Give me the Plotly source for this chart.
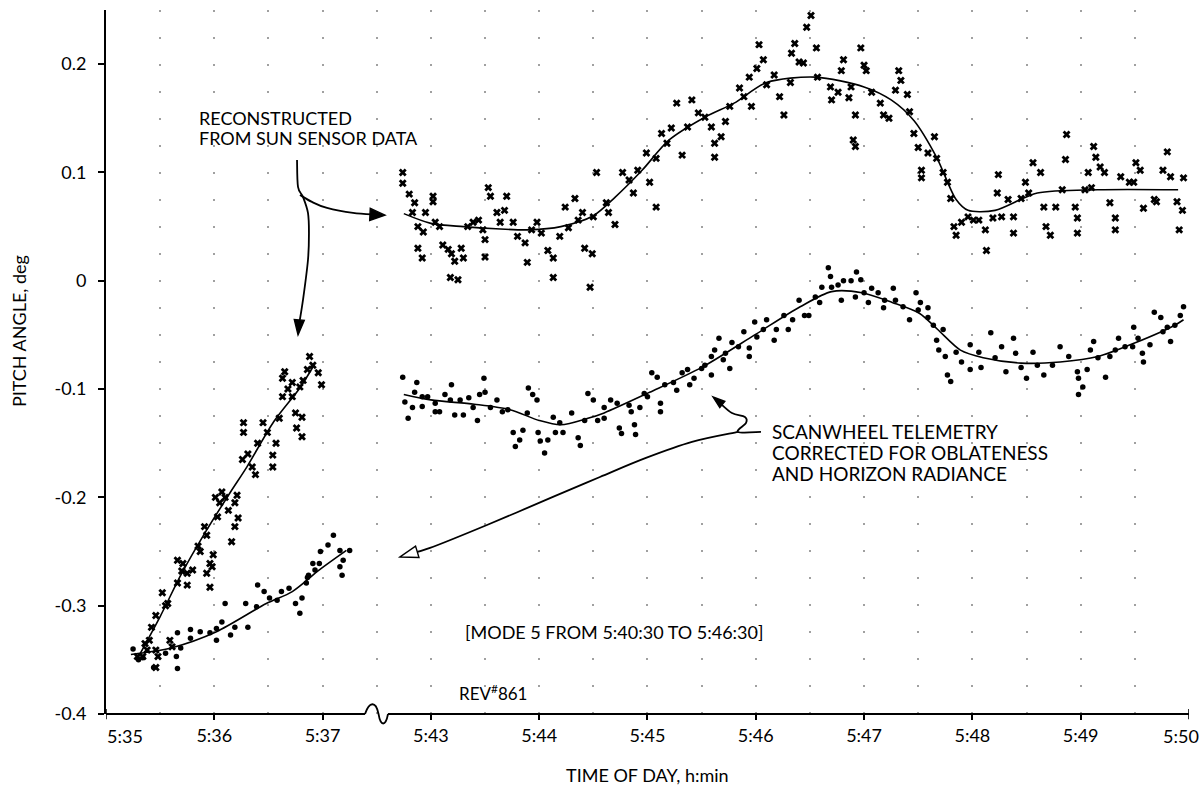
import math
import plotly.graph_objects as go

# ---------------- DATA (time = minutes after 5:00, pitch angle in deg) ----------------
# Sun-sensor reconstruction (x marks)
SS_L_T = [35.29, 35.34, 35.36, 35.38, 35.40, 35.42, 35.46, 35.46, 35.46, 35.48, 35.52, 35.55, 35.57, 35.59,
          35.61, 35.66, 35.66, 35.70, 35.71, 35.75, 35.75, 35.80, 35.85, 35.87, 35.91, 35.93, 35.93, 35.96,
          35.96, 35.98, 35.99, 36.01, 36.03, 36.05, 36.07, 36.10, 36.13, 36.16, 36.19, 36.19, 36.21, 36.22,
          36.26, 36.27, 36.27, 36.31, 36.35, 36.38, 36.40, 36.45, 36.49, 36.54, 36.54, 36.57, 36.60, 36.63,
          36.63, 36.65, 36.68, 36.72, 36.72, 36.75, 36.76, 36.79, 36.81, 36.81, 36.82, 36.86, 36.88, 36.91,
          36.96, 36.99]
SS_L_V = [-0.347, -0.347, -0.335, -0.341, -0.332, -0.320, -0.341, -0.309, -0.357, -0.347, -0.288, -0.300, -0.298, -0.332,
          -0.338, -0.258, -0.279, -0.268, -0.261, -0.270, -0.281, -0.267, -0.245, -0.250, -0.227, -0.235, -0.270, -0.261,
          -0.283, -0.264, -0.253, -0.200, -0.218, -0.205, -0.195, -0.200, -0.212, -0.241, -0.205, -0.227, -0.198, -0.219,
          -0.165, -0.131, -0.140, -0.160, -0.172, -0.179, -0.150, -0.131, -0.140, -0.161, -0.172, -0.150, -0.127, -0.090,
          -0.107, -0.084, -0.100, -0.094, -0.107, -0.122, -0.136, -0.098, -0.126, -0.144, -0.092, -0.082, -0.070, -0.078,
          -0.085, -0.096]

SS_R_T = [42.74, 42.74, 42.80, 42.83, 42.85, 42.88, 42.88, 42.92, 42.93, 42.95, 43.02, 43.02, 43.04, 43.08, 43.11,
          43.16, 43.18, 43.19, 43.22, 43.25, 43.28, 43.30, 43.34, 43.39, 43.44, 43.48, 43.50, 43.50, 43.53, 43.55,
          43.61, 43.64, 43.68, 43.70, 43.76, 43.80, 43.87, 43.89, 43.93, 43.98, 44.02, 44.08, 44.13, 44.13, 44.19,
          44.24, 44.27, 44.33, 44.36, 44.40, 44.42, 44.47, 44.49, 44.50, 44.53, 44.62, 44.64, 44.70, 44.77, 44.83,
          44.87, 44.91, 44.99, 45.02, 45.08, 45.08, 45.13, 45.18, 45.22, 45.27, 45.32, 45.37, 45.41, 45.47, 45.53,
          45.59, 45.62, 45.62, 45.68, 45.72, 45.76, 45.85, 45.89, 45.94, 45.96, 46.01, 46.03, 46.07, 46.10, 46.17,
          46.22, 46.26, 46.32, 46.33, 46.36, 46.40, 46.44, 46.47, 46.51, 46.56, 46.57, 46.69, 46.70, 46.76, 46.79,
          46.81, 46.86, 46.88, 46.90, 46.92, 46.92, 46.97, 47.00, 47.02, 47.07, 47.15, 47.18, 47.23, 47.29, 47.32,
          47.34, 47.40, 47.42, 47.46, 47.50, 47.53, 47.53, 47.59, 47.65, 47.67, 47.73, 47.77, 47.80, 47.83, 47.85,
          47.90, 47.96, 48.01, 48.06, 48.12, 48.13, 48.19, 48.23, 48.24, 48.27, 48.33, 48.38, 48.38, 48.45, 48.49,
          48.52, 48.56, 48.63, 48.66, 48.68, 48.72, 48.77, 48.83, 48.86, 48.87, 48.95, 48.97, 48.97, 49.04, 49.07,
          49.10, 49.12, 49.14, 49.18, 49.22, 49.27, 49.32, 49.32, 49.37, 49.45, 49.49, 49.51, 49.55, 49.58, 49.68,
          49.70, 49.76, 49.80, 49.83, 49.89, 49.91, 49.94, 49.95]
SS_R_V = [0.100, 0.090, 0.080, 0.063, 0.072, 0.050, 0.030, 0.021, 0.045, 0.063, 0.078, 0.073, 0.054, 0.050, 0.033,
          0.029, 0.003, 0.025, 0.018, 0.001, 0.030, 0.021, 0.050, 0.054, 0.056, 0.047, 0.038, 0.022, 0.086, 0.078,
          0.063, 0.054, 0.065, 0.078, 0.054, 0.041, 0.035, 0.017, 0.047, 0.054, 0.044, 0.028, 0.021, 0.003, 0.041,
          0.068, 0.049, 0.076, 0.056, 0.063, 0.030, -0.006, 0.025, 0.059, 0.100, 0.072, 0.063, 0.052, 0.100, 0.093,
          0.081, 0.102, 0.118, 0.091, 0.113, 0.068, 0.136, 0.127, 0.141, 0.164, 0.116, 0.142, 0.167, 0.155, 0.151,
          0.142, 0.127, 0.114, 0.133, 0.147, 0.161, 0.178, 0.170, 0.188, 0.161, 0.196, 0.218, 0.204, 0.181, 0.190,
          0.170, 0.153, 0.183, 0.210, 0.219, 0.202, 0.201, 0.234, 0.245, 0.215, 0.188, 0.179, 0.167, 0.174, 0.194,
          0.204, 0.169, 0.179, 0.130, 0.124, 0.153, 0.215, 0.199, 0.194, 0.174, 0.164, 0.153, 0.150, 0.176, 0.194,
          0.185, 0.172, 0.156, 0.136, 0.123, 0.102, 0.095, 0.118, 0.133, 0.113, 0.100, 0.091, 0.076, 0.050, 0.042,
          0.054, 0.059, 0.056, 0.056, 0.047, 0.028, 0.058, 0.081, 0.098, 0.059, 0.075, 0.059, 0.044, 0.076, 0.091,
          0.081, 0.109, 0.100, 0.068, 0.050, 0.042, 0.068, 0.084, 0.112, 0.135, 0.068, 0.058, 0.044, 0.084, 0.100,
          0.086, 0.124, 0.114, 0.105, 0.100, 0.072, 0.058, 0.047, 0.096, 0.091, 0.091, 0.109, 0.102, 0.067, 0.075,
          0.073, 0.102, 0.119, 0.096, 0.073, 0.047, 0.065, 0.095]

# Smoothed sun-sensor curve
SS_FIT_L_T = [35.30, 35.50, 35.70, 35.90, 36.15, 36.30, 36.55, 36.79, 36.92]
SS_FIT_L_V = [-0.347, -0.310, -0.270, -0.235, -0.195, -0.172, -0.130, -0.099, -0.078]
SS_FIT_R_T = [42.75, 43.00, 43.30, 43.60, 43.90, 44.20, 44.50, 44.70, 44.95, 45.20, 45.53, 45.80, 46.10,
              46.55, 47.00, 47.25, 47.46, 47.67, 47.85, 47.96, 48.21, 48.60, 49.16, 49.90]
SS_FIT_R_V = [0.062, 0.053, 0.050, 0.048, 0.047, 0.050, 0.060, 0.077, 0.102, 0.130, 0.151, 0.164, 0.183,
              0.188, 0.179, 0.167, 0.148, 0.114, 0.075, 0.065, 0.065, 0.081, 0.084, 0.084]

# Scanwheel telemetry (dots)
SW_L_T = [35.25, 35.30, 35.34, 35.44, 35.55, 35.65, 35.66, 35.66, 35.69, 35.78, 35.78, 35.87, 35.96, 36.02,
          36.02, 36.07, 36.10, 36.15, 36.19, 36.29, 36.31, 36.39, 36.40, 36.46, 36.51, 36.58, 36.62, 36.69,
          36.75, 36.79, 36.81, 36.85, 36.86, 36.87, 36.91, 36.93, 36.97, 36.98, 37.05, 37.10, 37.16, 37.16,
          37.18, 37.19, 37.25]
SW_L_V = [-0.340, -0.350, -0.348, -0.357, -0.344, -0.347, -0.358, -0.325, -0.339, -0.330, -0.322, -0.324, -0.325, -0.321,
          -0.332, -0.315, -0.298, -0.327, -0.320, -0.298, -0.320, -0.301, -0.281, -0.287, -0.293, -0.295, -0.287, -0.284,
          -0.298, -0.307, -0.293, -0.279, -0.274, -0.272, -0.261, -0.267, -0.261, -0.250, -0.244, -0.235, -0.249, -0.264,
          -0.272, -0.258, -0.249]

SW_R_T = [42.74, 42.76, 42.79, 42.83, 42.85, 42.87, 42.92, 42.92, 42.97, 43.04, 43.04, 43.08, 43.13, 43.18, 43.19,
          43.22, 43.27, 43.30, 43.35, 43.39, 43.43, 43.45, 43.49, 43.50, 43.55, 43.61, 43.66, 43.71, 43.76, 43.78,
          43.82, 43.85, 43.89, 43.90, 43.94, 43.98, 43.99, 44.01, 44.05, 44.08, 44.13, 44.15, 44.19, 44.22, 44.30,
          44.36, 44.38, 44.42, 44.45, 44.50, 44.54, 44.60, 44.60, 44.66, 44.72, 44.74, 44.76, 44.83, 44.85, 44.88,
          44.89, 44.93, 44.97, 45.00, 45.04, 45.09, 45.12, 45.12, 45.16, 45.24, 45.27, 45.32, 45.37, 45.39, 45.43,
          45.50, 45.53, 45.59, 45.59, 45.62, 45.66, 45.70, 45.72, 45.76, 45.78, 45.84, 45.89, 45.94, 45.94, 45.99,
          46.01, 46.07, 46.10, 46.17, 46.19, 46.26, 46.30, 46.34, 46.40, 46.45, 46.49, 46.55, 46.59, 46.61, 46.67,
          46.69, 46.70, 46.76, 46.79, 46.81, 46.88, 46.92, 46.93, 46.97, 47.00, 47.04, 47.07, 47.13, 47.18, 47.19,
          47.27, 47.29, 47.36, 47.42, 47.48, 47.50, 47.52, 47.59, 47.59, 47.64, 47.67, 47.69, 47.73, 47.75, 47.77,
          47.80, 47.85, 47.90, 47.98, 47.98, 48.06, 48.08, 48.17, 48.21, 48.27, 48.31, 48.38, 48.40, 48.45, 48.50,
          48.56, 48.60, 48.66, 48.74, 48.81, 48.89, 48.97, 48.98, 48.98, 49.02, 49.06, 49.09, 49.12, 49.16, 49.23,
          49.27, 49.32, 49.35, 49.41, 49.48, 49.49, 49.53, 49.57, 49.58, 49.64, 49.68, 49.74, 49.76, 49.80, 49.83,
          49.87, 49.92, 49.95]
SW_R_V = [-0.089, -0.112, -0.127, -0.117, -0.103, -0.094, -0.107, -0.116, -0.107, -0.113, -0.121, -0.121, -0.105, -0.110, -0.096,
          -0.124, -0.110, -0.124, -0.108, -0.117, -0.129, -0.105, -0.090, -0.103, -0.117, -0.110, -0.121, -0.119, -0.140, -0.153,
          -0.147, -0.138, -0.122, -0.099, -0.105, -0.110, -0.140, -0.148, -0.159, -0.147, -0.126, -0.140, -0.131, -0.140, -0.122,
          -0.145, -0.152, -0.129, -0.104, -0.110, -0.129, -0.117, -0.127, -0.110, -0.113, -0.136, -0.141, -0.115, -0.121, -0.133,
          -0.142, -0.117, -0.104, -0.107, -0.085, -0.089, -0.113, -0.121, -0.096, -0.094, -0.101, -0.085, -0.082, -0.096, -0.090,
          -0.081, -0.078, -0.087, -0.070, -0.064, -0.053, -0.073, -0.067, -0.081, -0.057, -0.061, -0.047, -0.070, -0.062, -0.038,
          -0.052, -0.045, -0.036, -0.055, -0.045, -0.032, -0.045, -0.036, -0.018, -0.032, -0.032, -0.015, -0.020, -0.006, 0.012,
          0.004, -0.006, -0.004, -0.018, 0.000, 0.000, -0.015, 0.008, 0.001, -0.011, -0.020, -0.007, -0.011, -0.025, -0.018,
          -0.007, -0.018, -0.024, -0.036, -0.011, -0.027, -0.020, -0.025, -0.034, -0.041, -0.055, -0.064, -0.045, -0.070, -0.087,
          -0.093, -0.066, -0.075, -0.059, -0.082, -0.066, -0.080, -0.048, -0.071, -0.061, -0.084, -0.053, -0.067, -0.080, -0.090,
          -0.066, -0.078, -0.087, -0.078, -0.061, -0.070, -0.084, -0.090, -0.105, -0.098, -0.082, -0.064, -0.056, -0.071, -0.089,
          -0.070, -0.064, -0.053, -0.061, -0.061, -0.043, -0.053, -0.067, -0.075, -0.059, -0.029, -0.034, -0.047, -0.043, -0.056,
          -0.041, -0.032, -0.024]

SW_FIT_L_T = [35.23, 35.60, 36.02, 36.48, 36.72, 36.97, 37.22]
SW_FIT_L_V = [-0.345, -0.339, -0.324, -0.298, -0.287, -0.267, -0.249]
SW_FIT_R_T = [42.75, 43.00, 43.40, 43.73, 44.00, 44.20, 44.45, 44.60, 45.02, 45.50, 45.99, 46.41, 46.70,
              46.98, 47.26, 47.51, 47.68, 47.89, 48.10, 48.45, 48.81, 49.16, 49.51, 49.87, 49.95]
SW_FIT_R_V = [-0.105, -0.110, -0.114, -0.119, -0.129, -0.133, -0.127, -0.122, -0.103, -0.080, -0.050, -0.024, -0.010,
              -0.011, -0.020, -0.030, -0.045, -0.064, -0.071, -0.076, -0.075, -0.070, -0.057, -0.041, -0.036]

# axis ticks (the two end labels are drawn slightly shifted, as in the original)
TICK_T = [35, 36, 37, 43, 44, 45, 46, 47, 48, 49, 50]
TICK_LABELS = ["5:35", "5:36", "5:37", "5:43", "5:44", "5:45", "5:46", "5:47", "5:48", "5:49", "5:50"]
END_LABEL_SHIFT = {"5:35": 19, "5:50": -8}
Y_TICKS = [-0.4, -0.3, -0.2, -0.1, 0.0, 0.1, 0.2]
Y_LABELS = ["-0.4", "-0.3", "-0.2", "-0.1", "0", "0.1", "0.2"]


# ---------------- broken time scale: 5:35-5:37:30 | 5:42:30-5:50 ----------------
def axis_pos(t):
    return t - 35.0 if t < 40 else t - 40.0


def xs(ts):
    return [axis_pos(t) for t in ts]


W, H = 1202, 789
MARGIN = dict(l=106, r=13, t=10, b=75)
X_RANGE = [0, 10.0005]
Y_RANGE = [-0.4, 0.25]
PLOT_W = W - MARGIN["l"] - MARGIN["r"]
PLOT_H = H - MARGIN["t"] - MARGIN["b"]
PX_X = PLOT_W / (X_RANGE[1] - X_RANGE[0])
PX_Y = PLOT_H / (Y_RANGE[1] - Y_RANGE[0])
FONT = "Lato, 'Open Sans', sans-serif"

fig = go.Figure()

# data marks
fig.add_trace(go.Scatter(x=xs(SS_L_T + SS_R_T), y=SS_L_V + SS_R_V, mode="markers",
                         marker=dict(symbol="x", size=7, color="black", line=dict(width=0)),
                         cliponaxis=False, showlegend=False, hoverinfo="skip"))
fig.add_trace(go.Scatter(x=xs(SW_L_T + SW_R_T), y=SW_L_V + SW_R_V, mode="markers",
                         marker=dict(symbol="circle", size=5.5, color="black", line=dict(width=0)),
                         cliponaxis=False, showlegend=False, hoverinfo="skip"))
fig.add_trace(go.Scatter(x=xs(SS_FIT_L_T) + [None] + xs(SS_FIT_R_T), y=SS_FIT_L_V + [None] + SS_FIT_R_V,
                         mode="lines", line=dict(color="black", width=1.6, shape="spline", smoothing=0.8),
                         connectgaps=False, showlegend=False, hoverinfo="skip"))
fig.add_trace(go.Scatter(x=xs(SW_FIT_L_T) + [None] + xs(SW_FIT_R_T), y=SW_FIT_L_V + [None] + SW_FIT_R_V,
                         mode="lines", line=dict(color="black", width=1.6, shape="spline", smoothing=0.8),
                         connectgaps=False, showlegend=False, hoverinfo="skip"))


# ---------------- annotation geometry helpers (axis units) ----------------
def smooth_path(pts):
    """Catmull-Rom through points -> cubic bezier SVG path (axis units)."""
    d = "M {},{}".format(*pts[0])
    for i in range(len(pts) - 1):
        p0 = pts[i - 1] if i > 0 else pts[i]
        p1, p2 = pts[i], pts[i + 1]
        p3 = pts[i + 2] if i + 2 < len(pts) else pts[i + 1]
        c1 = (p1[0] + (p2[0] - p0[0]) / 6, p1[1] + (p2[1] - p0[1]) / 6)
        c2 = (p2[0] - (p3[0] - p1[0]) / 6, p2[1] - (p3[1] - p1[1]) / 6)
        d += " C {},{} {},{} {},{}".format(c1[0], c1[1], c2[0], c2[1], p2[0], p2[1])
    return d


def head(tip, prev, length=13, half=5, filled=True):
    dx = (tip[0] - prev[0]) * PX_X
    dy = (tip[1] - prev[1]) * PX_Y
    n = math.hypot(dx, dy)
    ux, uy = dx / n, dy / n
    bx, by = -ux * length, -uy * length
    px, py = -uy * half, ux * half
    a = (tip[0] + (bx + px) / PX_X, tip[1] + (by + py) / PX_Y)
    b = (tip[0] + (bx - px) / PX_X, tip[1] + (by - py) / PX_Y)
    path = "M {},{} L {},{} L {},{} Z".format(tip[0], tip[1], a[0], a[1], b[0], b[1])
    return dict(type="path", xref="x", yref="y", path=path,
                line=dict(color="black", width=1.4),
                fillcolor="black" if filled else "white", layer="above")


LINE = dict(color="black", width=1.8)
# sun-sensor label arrows
trunk = [(1.764, 0.1115), (1.773, 0.0866), (1.819, 0.0774), (1.865, 0.0626), (1.874, 0.0441),
         (1.865, 0.0192), (1.819, -0.0177), (1.780, -0.042)]
branch = [(1.791, 0.0792), (1.902, 0.0728), (2.041, 0.0672), (2.281, 0.0626), (2.50, 0.0610)]
# scanwheel label arrows
squiggle = [(6.048, -0.1396), (5.836, -0.1396), (5.910, -0.1313), (5.900, -0.1258), (5.780, -0.1221),
            (5.660, -0.112)]
longline = [(5.836, -0.1396), (5.411, -0.1488), (4.986, -0.1636), (4.561, -0.1812), (4.127, -0.1996),
            (3.518, -0.2255), (2.992, -0.2467), (2.80, -0.2522)]

shapes = []
for pts in (trunk, branch, squiggle, longline):
    shapes.append(dict(type="path", xref="x", yref="y", path=smooth_path(pts), line=LINE, layer="above"))
shapes.append(head((1.773, -0.050), (1.790, -0.030), length=15, half=5))
shapes.append(head((2.576, 0.0606), (2.45, 0.0612), length=15, half=6))
shapes.append(head((5.605, -0.1073), (5.70, -0.1150), length=12, half=4))
shapes.append(head((2.715, -0.2550), (2.90, -0.2495), length=18, half=6, filled=False))

# x axis line with break symbol (paper units)
bx0, bx1 = (365 - MARGIN["l"]) / PLOT_W, (388 - MARGIN["l"]) / PLOT_W
shapes.append(dict(type="line", xref="paper", yref="paper", x0=0, x1=bx0, y0=0, y1=0,
                   line=dict(color="black", width=2)))
shapes.append(dict(type="line", xref="paper", yref="paper", x0=bx1, x1=1, y0=0, y1=0,
                   line=dict(color="black", width=2)))
shapes.append(dict(type="path", xref="paper", yref="paper",
                   path="M {a},0 C {b},0.018 {c},0.019 {d},0 C {e},-0.018 {f},-0.018 {g},0".format(
                       a=bx0, b=bx0 + 0.004, c=bx0 + 0.010, d=bx0 + 0.0125,
                       e=bx0 + 0.0145, f=bx0 + 0.019, g=bx1),
                   line=dict(color="black", width=1.8)))
# tick marks at the two axis ends (their labels are shifted annotations)
for t, lab in zip(TICK_T, TICK_LABELS):
    if lab in END_LABEL_SHIFT:
        shapes.append(dict(type="line", xref="x", yref="paper", x0=axis_pos(t), x1=axis_pos(t),
                           y0=0.007, y1=-0.0075, line=dict(color="black", width=1.5)))


def note(text, x, y, size=19, xanchor="left"):
    return dict(text=text, x=x, y=y, xref="x", yref="y", xanchor=xanchor, yanchor="middle",
                showarrow=False, font=dict(family=FONT, size=size, color="black"))


annotations = [
    note("RECONSTRUCTED", 0.84, 0.1500, size=18),
    note("FROM SUN SENSOR DATA", 0.84, 0.1320, size=18),
    note("SCANWHEEL TELEMETRY", 6.13, -0.1396),
    note("CORRECTED FOR OBLATENESS", 6.13, -0.1590),
    note("AND HORIZON RADIANCE", 6.13, -0.1775),
    note("[MODE 5 FROM 5:40:30 TO 5:46:30]", 3.30, -0.3243, size=18),
    note("REV<sup>#</sup>861", 3.24, -0.3797, size=17),
    dict(text="TIME OF DAY, h:min", x=0.5, y=-(775 - (H - MARGIN["b"])) / PLOT_H,
         xref="paper", yref="paper", xanchor="center", yanchor="middle",
         showarrow=False, font=dict(family=FONT, size=18, color="black")),
    dict(text="PITCH ANGLE, deg", x=-0.0803, y=0.544, xref="paper", yref="paper", textangle=-90,
         xanchor="center", yanchor="middle", showarrow=False, font=dict(family=FONT, size=18, color="black")),
]
for t, lab in zip(TICK_T, TICK_LABELS):
    if lab in END_LABEL_SHIFT:
        annotations.append(dict(text=lab, x=axis_pos(t), y=0, xref="x", yref="paper", xanchor="center",
                                yanchor="top", xshift=END_LABEL_SHIFT[lab], yshift=-9, showarrow=False,
                                font=dict(family=FONT, size=18, color="black")))

mid_t = [t for t, lab in zip(TICK_T, TICK_LABELS) if lab not in END_LABEL_SHIFT]
mid_lab = [lab for lab in TICK_LABELS if lab not in END_LABEL_SHIFT]

fig.update_layout(
    width=W, height=H, margin=MARGIN,
    paper_bgcolor="white", plot_bgcolor="white",
    font=dict(family=FONT, size=18, color="black"),
    shapes=shapes, annotations=annotations, showlegend=False,
    xaxis=dict(range=X_RANGE, tickmode="array", tickvals=xs(mid_t), ticktext=mid_lab,
               ticks="outside", ticklen=5, tickwidth=1.5,
               tickcolor="black", showline=False, zeroline=False,
               showgrid=True, gridcolor="#a0a0a0", gridwidth=1.5, griddash="1.5px,25.5px",
               minor=dict(tickmode="array", tickvals=[i * 0.5 for i in range(21) if i % 2 == 1 or i in (0, 20)],
                          showgrid=True, gridcolor="#a0a0a0", gridwidth=1.5, griddash="1.5px,25.5px",
                          ticks=""),
               tickfont=dict(family=FONT, size=18, color="black")),
    yaxis=dict(range=Y_RANGE, tickmode="array", tickvals=Y_TICKS, ticktext=Y_LABELS,
               ticks="outside", ticklen=6, tickwidth=1.5, tickcolor="black",
               showline=True, linewidth=2, linecolor="black", zeroline=False, showgrid=False,
               ticklabelstandoff=8, tickfont=dict(family=FONT, size=18, color="black")),
)

fig.write_html("out.html")
